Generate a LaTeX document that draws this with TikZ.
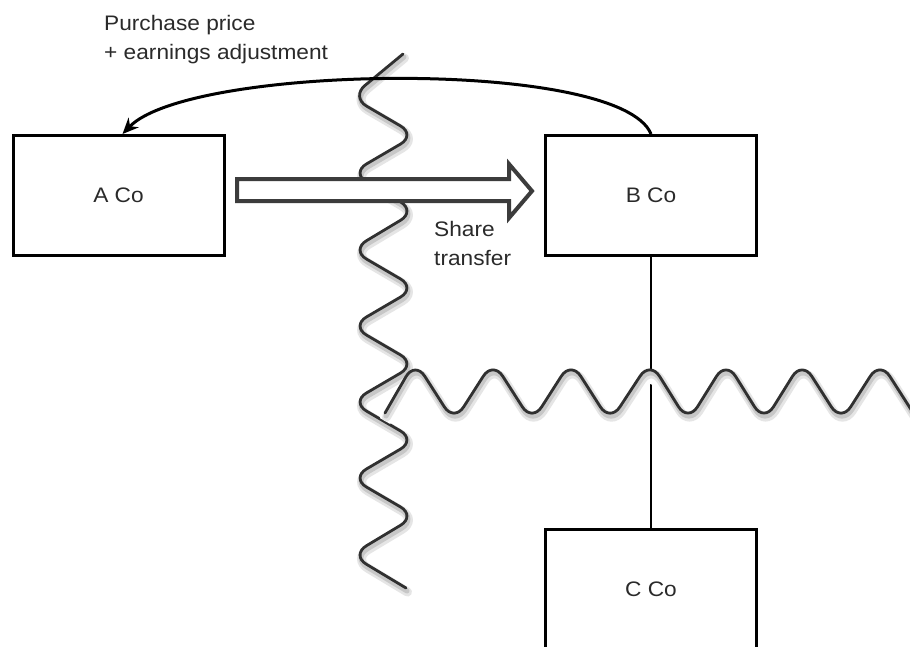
\documentclass[tikz,border=0pt]{standalone}
\usepackage{fontspec}
\setmainfont{Liberation Sans}[FakeStretch=1.08]
\usetikzlibrary{arrows.meta,calc}
\definecolor{wavecol}{HTML}{303030}
\definecolor{txtcol}{HTML}{2A2A2A}
\definecolor{blockcol}{HTML}{3C3C3C}
\def\vwavepath{(403,54) -- (351,97) -- (416,135) -- (351,173) -- (416,211) -- (351,250) -- (416,288) -- (351,326) -- (416,364) -- (351,402) -- (416,440) -- (351,478) -- (416,516) -- (351,555) -- (406,588)}
\def\hwavepath{(385,413) -- (415,361) -- (454,422) -- (493,361) -- (532,422) -- (571,361) -- (610,422) -- (650,361) -- (688,422) -- (726,361) -- (764,422) -- (802,361) -- (841,422) -- (880,361) -- (919,422)}
\tikzset{
  box/.style={draw, line width=3pt, fill=white, minimum width=211pt, minimum height=120pt, inner sep=0pt, font=\fontsize{21}{25}\selectfont, text=txtcol},
  lbl/.style={inner sep=0pt, align=left, font=\fontsize{21}{29}\selectfont, text=txtcol},
  wave/.style={draw=wavecol, line width=2.8pt, rounded corners=18pt, line cap=round},
  wshadowa/.style={draw=black!10, line width=9pt, rounded corners=18pt, line cap=round},
  wshadowb/.style={draw=black!22, line width=5pt, rounded corners=18pt, line cap=round},
  whalo/.style={draw=white, line width=12pt, rounded corners=18pt},
  link/.style={line width=1.8pt},
  payarrow/.style={line width=3pt, -{Stealth[length=16pt, width=14pt]}},
  blockarrow/.style={draw=blockcol, line width=4pt, fill=white, line join=miter}
}
\begin{document}
\begin{tikzpicture}[x=1pt, y=-1pt]
\useasboundingbox (0,0) rectangle (910,646);
\fill[white] (0,0) rectangle (910,646);
% vertical wave
\begin{scope}[shift={(1.5,4)}]
  \draw[wshadowa] \vwavepath;
\end{scope}
\begin{scope}[shift={(1,3)}]
  \draw[wshadowb] \vwavepath;
\end{scope}
\draw[wave] \vwavepath;
% boxes
\node[box] (A) at (118.5,195.5) {A Co};
\node[box] (B) at (651,195.5) {B Co};
\node[box] (C) at (651,589.5) {C Co};
% payment arc
\draw[payarrow] (B.north) .. controls (620,58) and (190,64) .. ([xshift=4pt]A.north);
% B - C link
\draw[link] (B.south) -- (C.north);
% horizontal wave
\begin{scope}[shift={(0,8)}]
  \draw[whalo] \hwavepath;
\end{scope}
\begin{scope}[shift={(1.5,4)}]
  \draw[wshadowa] \hwavepath;
\end{scope}
\begin{scope}[shift={(1,3)}]
  \draw[wshadowb] \hwavepath;
\end{scope}
\draw[wave] \hwavepath;
% share transfer block arrow
\draw[blockarrow] (237,179) -- (509,179) -- (509,164) -- (532,191) -- (509,218) -- (509,201) -- (237,201) -- cycle;
% labels
\node[lbl, anchor=base west] (pp) at (104,59) {Purchase price\\+ earnings adjustment};
\node[lbl, anchor=base west] (st) at (434,265) {Share\\transfer};
\end{tikzpicture}
\end{document}
